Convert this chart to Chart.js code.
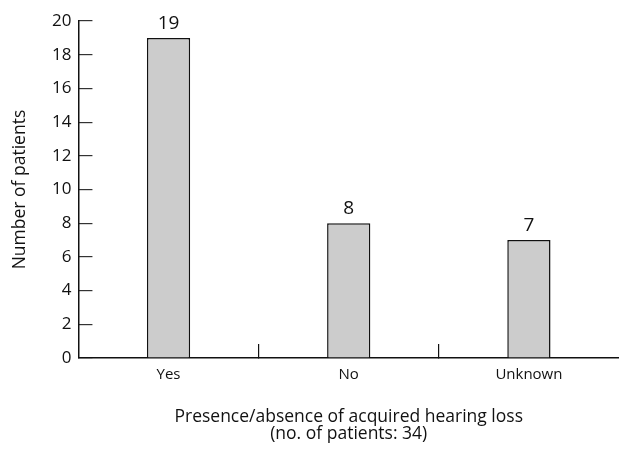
<!DOCTYPE html>
<html>
<head>
<meta charset="utf-8">
<script src="https://cdn.jsdelivr.net/npm/chart.js@4.4.1/dist/chart.umd.min.js"></script>
<style>
  html, body { margin: 0; padding: 0; background: #fff; }
  #wrap { width: 619px; height: 449px; }
</style>
</head>
<body>
<div id="wrap"><canvas id="hearing-chart"></canvas></div>
<script>
const categories = ['Yes', 'No', 'Unknown'];
const patients = [19, 8, 7];
const yMin = 0, yMax = 20, yStep = 2;
const xTitle = ['Presence/absence of acquired hearing loss', '(no. of patients: 34)'];
const yTitle = 'Number of patients';

const FONT = '"Open Sans"';

// numbers above each bar
const barLabels = {
    id: 'barLabels',
    afterDatasetsDraw(chart) {
        const ctx = chart.ctx;
        const meta = chart.getDatasetMeta(0);
        ctx.save();
        ctx.font = '19px ' + FONT;
        ctx.fillStyle = '#111';
        ctx.textAlign = 'center';
        ctx.textBaseline = 'alphabetic';
        meta.data.forEach((bar, i) => {
            ctx.fillText(String(patients[i]), bar.x, bar.y - 9);
        });
        ctx.restore();
    }
};

const ctx = document.getElementById('hearing-chart').getContext('2d');
const chart = new Chart(ctx, {
    type: 'bar',
    data: {
        labels: categories,
        datasets: [{
            data: patients,
            backgroundColor: '#cccccc',
            borderColor: '#111',
            borderWidth: 1.5,
            barPercentage: 0.24,
            categoryPercentage: 1.0
        }]
    },
    options: {
        responsive: true,
        maintainAspectRatio: false,
        animation: false,
        layout: { padding: { top: 0, right: 0, left: 10, bottom: 6 } },
        plugins: {
            legend: { display: false },
            tooltip: { enabled: false }
        },
        scales: {
            x: {
                offset: true,
                border: { display: true, color: '#111', width: 1.5 },
                grid: {
                    offset: true,
                    drawOnChartArea: false,
                    tickLength: -14,
                    lineWidth: 1.2,
                    color: (c) => (c.index > 0 && c.index < categories.length) ? '#111' : 'rgba(0,0,0,0)'
                },
                ticks: {
                    color: '#111',
                    padding: 22,
                    font: { family: FONT, size: 15 }
                },
                title: {
                    display: true,
                    text: xTitle,
                    color: '#111',
                    font: { family: FONT, size: 17.5, lineHeight: 1.0 },
                    padding: { top: 2, bottom: 0 }
                }
            },
            y: {
                min: yMin,
                max: yMax,
                border: { display: true, color: '#111', width: 1.5 },
                grid: {
                    drawOnChartArea: false,
                    tickLength: -14,
                    lineWidth: 1.2,
                    color: '#333'
                },
                ticks: {
                    stepSize: yStep,
                    color: '#111',
                    padding: 21,
                    font: { family: FONT, size: 17, lineHeight: 0.01 }
                },
                title: {
                    display: true,
                    text: yTitle,
                    color: '#111',
                    font: { family: FONT, size: 17.5 },
                    padding: { top: 0, bottom: 0 }
                }
            }
        }
    },
    plugins: [barLabels]
});
</script>
</body>
</html>
